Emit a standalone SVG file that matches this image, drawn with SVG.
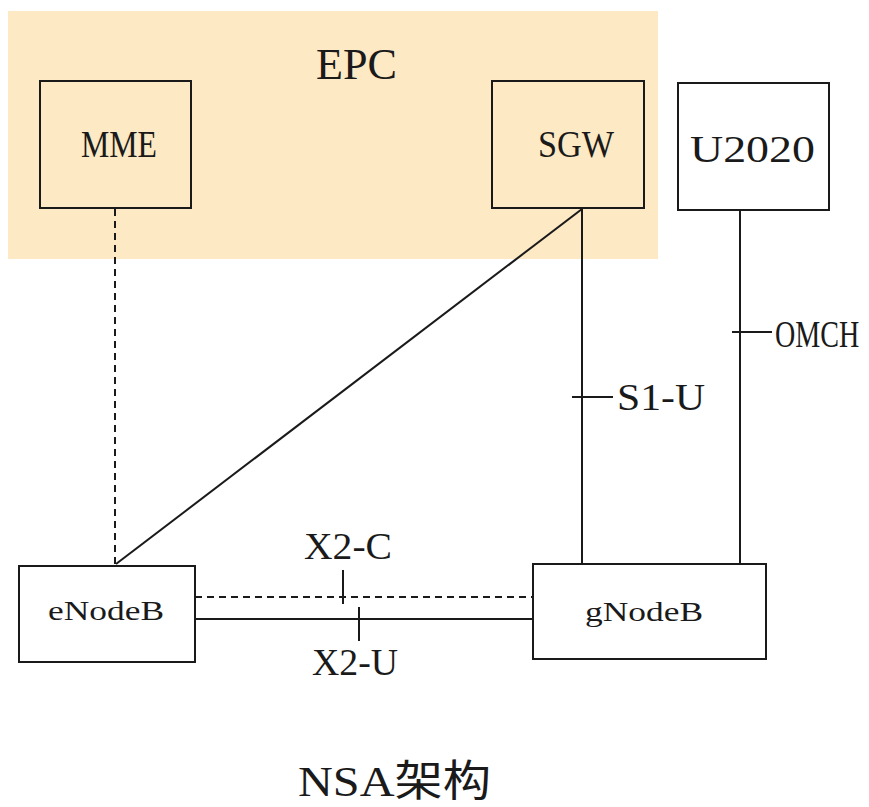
<svg xmlns="http://www.w3.org/2000/svg" width="869" height="807" viewBox="0 0 869 807">
<style>
.box{fill:none;stroke:#1a1a1a;stroke-width:2}
.wbox{fill:#ffffff;stroke:#1a1a1a;stroke-width:2}
.ln{stroke:#1a1a1a;stroke-width:2;fill:none}
.dash{stroke-dasharray:7 5}
text{font-family:"Liberation Serif","Noto Sans CJK SC",serif;fill:#1a1a1a}
.big{font-size:44px}
.lbl{font-size:38px}
.nb{font-size:27px}
</style>
<rect id="epc-bg" x="8" y="11" width="650" height="248" fill="#FDE9C4"/>
<text x="316" y="79" class="big" textLength="81" lengthAdjust="spacingAndGlyphs">EPC</text>
<g id="connectors">
<line class="ln dash" x1="115" y1="209" x2="115" y2="564"/>
<line class="ln" x1="582" y1="209" x2="116" y2="564"/>
<line class="ln" x1="582" y1="209" x2="582" y2="564"/>
<line class="ln" x1="572" y1="397" x2="613" y2="397"/>
<text x="617" y="410" class="lbl" textLength="88" lengthAdjust="spacingAndGlyphs">S1-U</text>
<line class="ln" x1="740" y1="210" x2="740" y2="564"/>
<line class="ln" x1="732" y1="332" x2="772" y2="332"/>
<text transform="translate(775,347) scale(0.74,1)" x="0" y="0" class="lbl">OMCH</text>
<line class="ln dash" x1="195" y1="597" x2="533" y2="597"/>
<line class="ln" x1="343" y1="570" x2="343" y2="604"/>
<text x="304" y="559" class="lbl" textLength="88" lengthAdjust="spacingAndGlyphs">X2-C</text>
<line class="ln" x1="195" y1="619" x2="536" y2="619"/>
<line class="ln" x1="359" y1="607" x2="359" y2="641"/>
<text x="312" y="675" class="lbl" textLength="86" lengthAdjust="spacingAndGlyphs">X2-U</text>
</g>
<g id="mme">
<rect class="box" x="40" y="81" width="151" height="127"/>
<text x="81" y="157" class="lbl" textLength="76" lengthAdjust="spacingAndGlyphs">MME</text>
</g>
<g id="sgw">
<rect class="box" x="492" y="81" width="152" height="127"/>
<text x="538" y="157" class="lbl" textLength="76" lengthAdjust="spacingAndGlyphs">SGW</text>
</g>
<g id="u2020">
<rect class="wbox" x="678" y="83" width="151" height="127"/>
<text x="690" y="162" class="lbl" textLength="125" lengthAdjust="spacingAndGlyphs">U2020</text>
</g>
<g id="enodeb">
<rect class="wbox" x="19" y="566" width="176" height="96"/>
<text x="48" y="620" class="nb" textLength="116" lengthAdjust="spacingAndGlyphs">eNodeB</text>
</g>
<g id="gnodeb">
<rect class="wbox" x="533" y="564" width="233" height="95"/>
<text x="585" y="621" class="nb" textLength="118" lengthAdjust="spacingAndGlyphs">gNodeB</text>
</g>
<text x="298" y="796" font-size="43" textLength="193" lengthAdjust="spacingAndGlyphs">NSA架构</text>
</svg>
